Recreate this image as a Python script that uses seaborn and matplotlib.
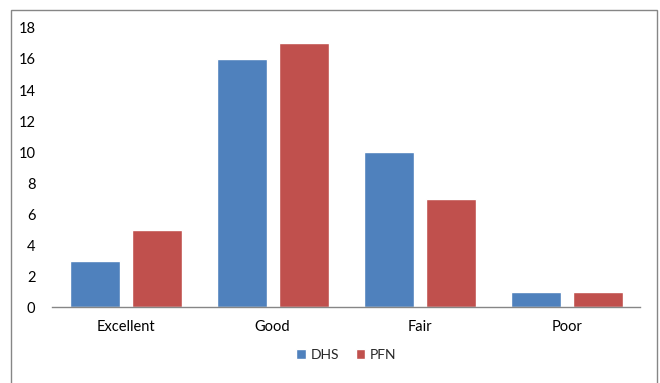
import pandas as pd
import numpy as np
import matplotlib
matplotlib.use("Agg")
import matplotlib.pyplot as plt
import seaborn as sns
from matplotlib.patches import Rectangle

categories = ["Excellent", "Good", "Fair", "Poor"]
dhs = [3, 16, 10, 1]
pfn = [5, 17, 7, 1]
series = ["DHS", "PFN"]

df = pd.DataFrame({
    "rating": categories * 2,
    "count": dhs + pfn,
    "group": ["DHS"] * 4 + ["PFN"] * 4,
})

sns.set_style("white")
plt.rcParams["font.family"] = ["Lato", "DejaVu Sans"]

fig = plt.figure(figsize=(6.6, 3.83), dpi=100)
ax = fig.add_axes([0.079, 0.198, 0.891, 0.729])

sns.barplot(data=df, x="rating", y="count", hue="group", order=categories,
            hue_order=series, palette=["#4F81BD", "#C0504D"],
            width=0.84, gap=0.19, saturation=1, ax=ax)

ax.set_ylim(0, 18)
ax.set_yticks(np.arange(0, 19, 2))
ax.set_xlim(-0.5, 3.5)
ax.set_xlabel("")
ax.set_ylabel("")
for s in ["top", "right", "left"]:
    ax.spines[s].set_visible(False)
ax.spines["bottom"].set_color("#868686")
ax.spines["bottom"].set_linewidth(1)
ax.tick_params(axis="both", length=0, labelsize=10.5, colors="#000000", pad=9)
ax.tick_params(axis="y", pad=12)

ax.legend(loc="center", bbox_to_anchor=(0.5, -0.172), ncol=2, frameon=False,
          fontsize=10, handlelength=0.7, handleheight=0.7, handletextpad=0.3,
          columnspacing=1.2)

fig.patches.append(Rectangle((11 / 660, -0.01), 646 / 660, 1 - 10 / 383 + 0.01,
                             transform=fig.transFigure, fill=False,
                             edgecolor="#868686", linewidth=1))

fig.savefig("out.png", dpi=100)
